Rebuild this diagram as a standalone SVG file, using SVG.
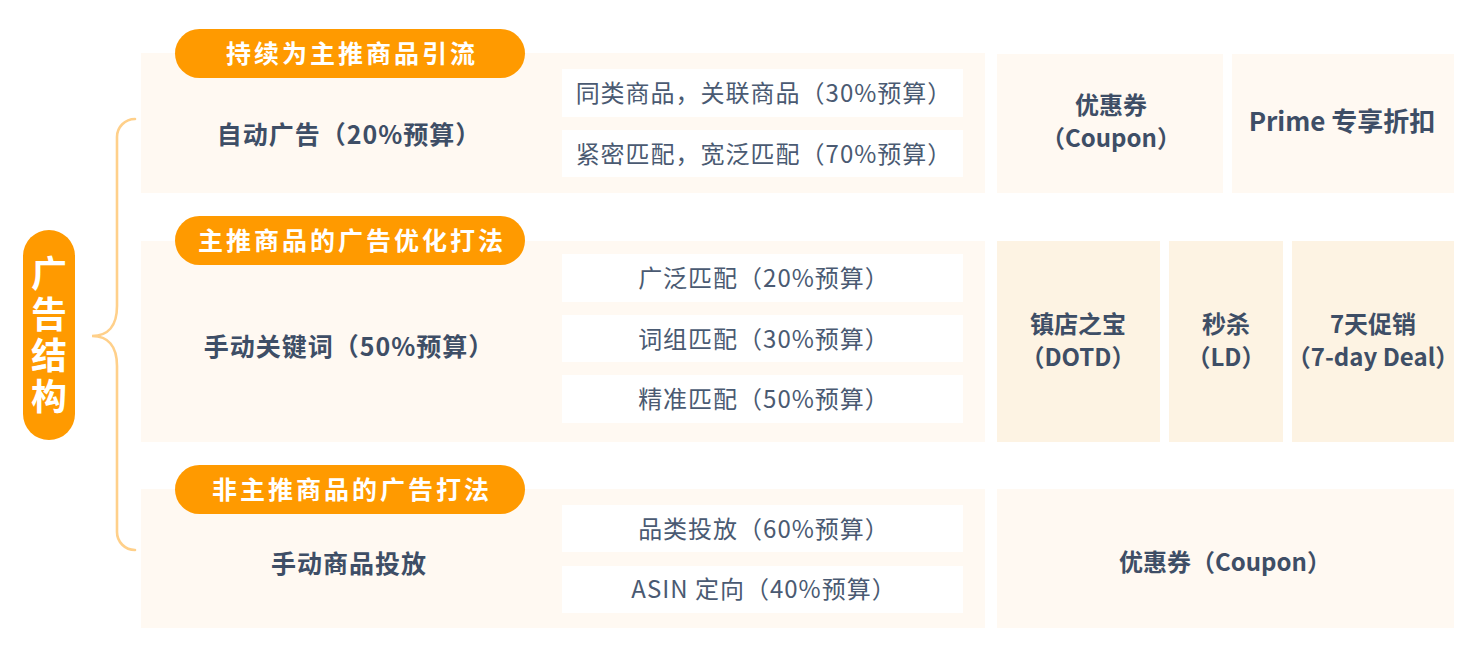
<svg xmlns="http://www.w3.org/2000/svg" width="1481" height="657" viewBox="0 0 1481 657">
<style>
.bg{fill:#fff9f2}
.bg2{fill:#fdf3e3}
.sub{fill:#ffffff}
.pill{fill:#ff9a00}
.t{font-family:"Noto Sans CJK SC","Noto Sans",sans-serif;text-anchor:middle}
.pt{fill:#ffffff;font-size:25px;font-weight:700;letter-spacing:3px}
.mt{fill:#3e4e66;font-size:25px;font-weight:700;letter-spacing:1px}
.st{fill:#4a5a72;font-size:24px;font-weight:400;letter-spacing:1px}
.rt{fill:#3e4e66;font-size:24px;font-weight:700}
.br{fill:none;stroke:#ffd496;stroke-width:1.6;stroke-linecap:round}
.bigbr{fill:none;stroke:#ffd08a;stroke-width:2.6;stroke-linecap:round}
</style>
<rect width="1481" height="657" fill="#ffffff"/>

<g id="root">
<rect class="pill" x="23" y="230" width="52" height="210" rx="26"/>
<text class="t" x="49" y="337" fill="#ffffff" font-size="36" font-weight="700" writing-mode="tb" style="writing-mode:vertical-rl;text-orientation:upright;letter-spacing:5px">广告结构</text>
</g>

<g id="connectors">
<path class="bigbr" d="M135,119 A18,18 0 0 0 117,137 L117,306 C117,326 108,336 92,336 C108,336 117,346 117,366 L117,532 A18,18 0 0 0 135,550"/>
<path class="br" d="M537,85 Q532,85 532,90 L532,116 Q532,122 526,122 Q532,122 532,128 L532,155 Q532,160 537,160"/>
<path class="br" d="M538,277 Q533,277 533,282 L533,332 Q533,338 526,338 Q533,338 533,344 L533,395 Q533,400 538,400"/>
<path class="br" d="M538,512 Q533,512 533,517 L533,553 Q533,559 526,559 Q533,559 533,565 L533,602 Q533,607 538,607"/>
</g>

<g id="row1">
<rect class="bg" x="141" y="53" width="844" height="140"/>
<rect class="pill" x="175" y="29" width="350" height="49" rx="24.5"/>
<text class="t pt" x="352" y="63">持续为主推商品引流</text>
<text class="t mt" x="349" y="144">自动广告（20%预算）</text>
</g>
<g id="row1-sub1">
<rect class="sub" x="562" y="69" width="401" height="48"/>
<text class="t st" x="764" y="102">同类商品，关联商品（30%预算）</text>
</g>
<g id="row1-sub2">
<rect class="sub" x="562" y="130" width="401" height="47"/>
<text class="t st" x="764" y="163">紧密匹配，宽泛匹配（70%预算）</text>
</g>
<g id="row1-coupon">
<rect class="bg" x="997" y="54" width="226" height="139"/>
<text class="t rt"><tspan x="1111" y="114">优惠券</tspan><tspan x="1111" y="147">（Coupon）</tspan></text>
</g>
<g id="row1-prime">
<rect class="bg" x="1232" y="54" width="222" height="139"/>
<text class="t rt" x="1342" y="131" style="font-size:26px">Prime 专享折扣</text>
</g>

<g id="row2">
<rect class="bg" x="141" y="241" width="844" height="201"/>
<rect class="pill" x="175" y="216" width="350" height="49" rx="24.5"/>
<text class="t pt" x="352" y="250">主推商品的广告优化打法</text>
<text class="t mt" x="349" y="356">手动关键词（50%预算）</text>
</g>
<g id="row2-sub1">
<rect class="sub" x="562" y="254" width="401" height="48"/>
<text class="t st" x="764" y="287">广泛匹配（20%预算）</text>
</g>
<g id="row2-sub2">
<rect class="sub" x="562" y="315" width="401" height="47"/>
<text class="t st" x="764" y="348">词组匹配（30%预算）</text>
</g>
<g id="row2-sub3">
<rect class="sub" x="562" y="375" width="401" height="48"/>
<text class="t st" x="764" y="408">精准匹配（50%预算）</text>
</g>
<g id="row2-dotd">
<rect class="bg2" x="997" y="241" width="163" height="201"/>
<text class="t rt"><tspan x="1078" y="333">镇店之宝</tspan><tspan x="1078" y="366">（DOTD）</tspan></text>
</g>
<g id="row2-ld">
<rect class="bg2" x="1169" y="241" width="114" height="201"/>
<text class="t rt"><tspan x="1226" y="333">秒杀</tspan><tspan x="1226" y="366">（LD）</tspan></text>
</g>
<g id="row2-7day">
<rect class="bg2" x="1292" y="241" width="162" height="201"/>
<text class="t rt"><tspan x="1373" y="333">7天促销</tspan><tspan x="1373" y="366">（7-day Deal）</tspan></text>
</g>

<g id="row3">
<rect class="bg" x="141" y="489" width="844" height="139"/>
<rect class="pill" x="175" y="465" width="350" height="49" rx="24.5"/>
<text class="t pt" x="352" y="499">非主推商品的广告打法</text>
<text class="t mt" x="349" y="573">手动商品投放</text>
</g>
<g id="row3-sub1">
<rect class="sub" x="562" y="505" width="401" height="47"/>
<text class="t st" x="764" y="538">品类投放（60%预算）</text>
</g>
<g id="row3-sub2">
<rect class="sub" x="562" y="566" width="401" height="47"/>
<text class="t st" x="764" y="598">ASIN 定向（40%预算）</text>
</g>
<g id="row3-coupon">
<rect class="bg" x="997" y="489" width="457" height="139"/>
<text class="t rt" x="1225" y="571">优惠券（Coupon）</text>
</g>
</svg>
